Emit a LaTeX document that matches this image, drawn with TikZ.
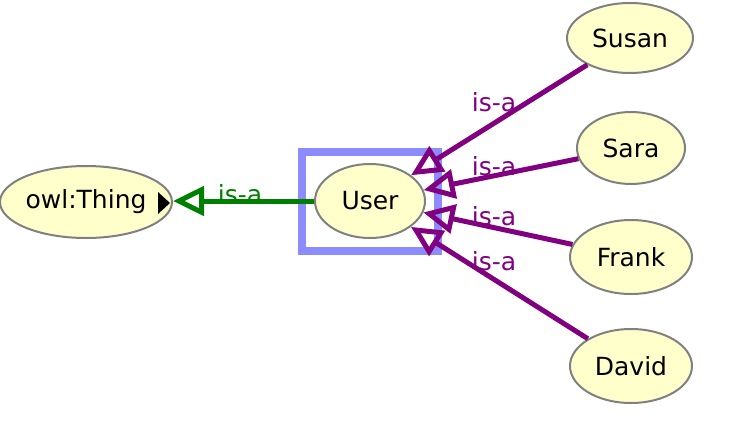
\documentclass[tikz,border=0pt]{standalone}
\usepackage{fontspec}
\setmainfont{DejaVu Sans}
\usetikzlibrary{arrows.meta,shapes.geometric}
\definecolor{nodefill}{RGB}{255,255,204}
\definecolor{nodeline}{RGB}{128,128,128}
\definecolor{isagreen}{RGB}{0,128,0}
\definecolor{isapurple}{RGB}{128,0,128}
\definecolor{selblue}{RGB}{140,140,255}
\tikzset{
  cls/.style={ellipse, draw=nodeline, fill=nodefill, line width=2pt, inner sep=0pt,
    font=\fontsize{25}{29}\selectfont, text=black},
  isaedge/.style={line width=5pt, -{Triangle[open, length=31pt, width=29pt]}},
  isalabel/.style={font=\fontsize{25}{29}\selectfont, inner sep=0pt},
}
\begin{document}
\begin{tikzpicture}[x=1pt,y=-1pt]
\useasboundingbox (0,0) rectangle (748,426);
% nodes
\node[cls, minimum width=172pt, minimum height=72pt] (thing) at (86,202) {owl:Thing\hspace{22pt}};
\node[cls, minimum width=110pt, minimum height=74pt] (user) at (370,201) {User};
\node[cls, minimum width=126pt, minimum height=70pt] (susan) at (630,38) {Susan};
\node[cls, minimum width=108pt, minimum height=72pt] (sara) at (631,148) {Sara};
\node[cls, minimum width=122pt, minimum height=74pt] (frank) at (631,257) {Frank};
\node[cls, minimum width=122pt, minimum height=74pt] (david) at (631,366) {David};
% expand indicator
\fill[black] (158,192) -- (170,203) -- (158,214) -- cycle;
% selection box
\draw[selblue, line width=8pt] (302,152) rectangle (438,251);
% edges
\draw[isaedge, isagreen] (user.west) -- (thing.east |- user.west);
\draw[isaedge, isapurple] (susan) -- (user);
\draw[isaedge, isapurple] (sara) -- (user);
\draw[isaedge, isapurple] (frank) -- (user);
\draw[isaedge, isapurple] (david) -- (user);
% labels
\node[isalabel, text=isagreen] (l0) at (240,194) {is-a};
\node[isalabel, text=isapurple] (l1) at (494,102) {is-a};
\node[isalabel, text=isapurple] (l2) at (494,166) {is-a};
\node[isalabel, text=isapurple] (l3) at (494,216) {is-a};
\node[isalabel, text=isapurple] (l4) at (494,261) {is-a};
\end{tikzpicture}
\end{document}
